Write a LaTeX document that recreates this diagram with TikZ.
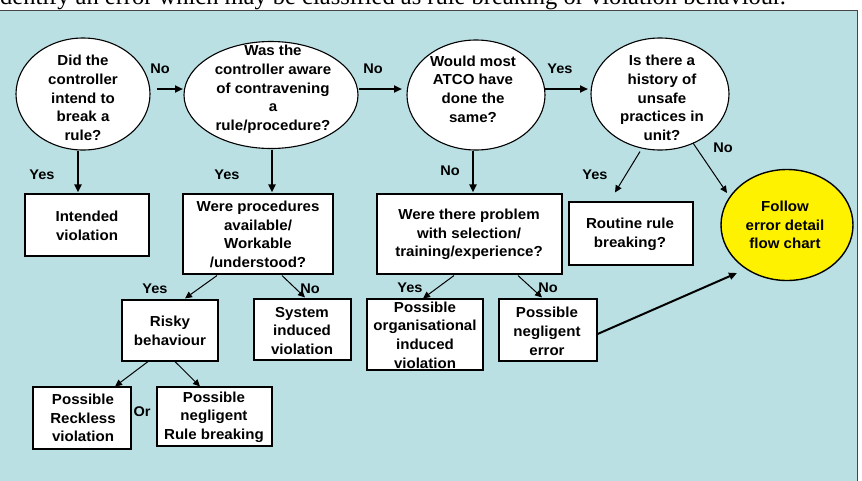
\documentclass[tikz,border=0pt]{standalone}
\usepackage{fontspec}
\setmainfont{Liberation Sans}
\newfontfamily\arb[FakeStretch=1.04]{Liberation Sans}
\newfontfamily\tms{Liberation Serif}
\usetikzlibrary{shapes.geometric,arrows.meta,calc}
\definecolor{panel}{RGB}{186,224,227}
\definecolor{edge}{RGB}{70,70,70}
\tikzset{
 txt/.style={font=\arb\bfseries\fontsize{14.5}{18.7}\selectfont, align=center, inner sep=0pt},
 bubble/.style={ellipse, draw=black, line width=1.1pt, fill=white, inner sep=0pt},
 box/.style={rectangle, draw=black, line width=1.1pt, fill=white, inner sep=0pt},
 lbl/.style={font=\arb\bfseries\fontsize{14}{16}\selectfont, inner sep=0pt},
 thk/.style={line width=2pt, -{Triangle[length=8pt,width=7pt]}},
 thn/.style={line width=1pt, -{Triangle[length=7pt,width=6.5pt]}},
}
\begin{document}
\begin{tikzpicture}[x=1pt,y=-1pt]
\useasboundingbox (0,0) rectangle (862,480);
% heading line, cut off by the page top
\node[font=\tms\fontsize{24.5}{28}\selectfont, anchor=base west, inner sep=0pt] (title) at (-8.2,4.5) {Identify an error which may be classified as rule breaking or violation behaviour.};
% panel
\fill[panel] (-1,10.5) rectangle (857.7,484);
\draw[edge, line width=1pt] (-1,10.5) -- (857.7,10.5) -- (857.7,484);

% decision bubbles
\node[bubble, minimum width=134pt, minimum height=112pt] (e1) at (83,94) {};
\node[txt] (e1t) at (83,98) {Did the\\controller\\intend to\\break a\\rule?};
\node[bubble, minimum width=174pt, minimum height=107pt] (e2) at (271,95) {};
\node[txt] (e2t) at (273,89.5) {Was the\\controller aware\\of contravening\\a\\rule/procedure?};
\node[bubble, minimum width=138pt, minimum height=110pt] (e3) at (476,95) {};
\node[txt] (e3t) at (473,89) {Would most\\ATCO have\\done the\\same?};
\node[bubble, minimum width=138pt, minimum height=112pt] (e4) at (660,94) {};
\node[txt] (e4t) at (662,98) {Is there a\\history of\\unsafe\\practices in\\unit?};
\node[bubble, fill=yellow, line width=1.4pt, minimum width=132pt, minimum height=111pt] (fy) at (787,225) {};
\node[txt] (fyt) at (785,225) {Follow\\error detail\\flow chart};

% boxes
\node[box, minimum width=124pt, minimum height=62pt] (b1) at (87,225) {};
\node[txt] (b1t) at (87,225.5) {Intended\\violation};
\node[box, minimum width=150pt, minimum height=80pt] (b2) at (258,234) {};
\node[txt] (b2t) at (258,234.5) {Were procedures\\available/\\Workable\\/understood?};
\node[box, minimum width=185pt, minimum height=80pt] (b3) at (469.5,234) {};
\node[txt] (b3t) at (469,234.5) {Were there problem\\with selection/\\training/experience?};
\node[box, minimum width=124pt, minimum height=63pt] (b4) at (631,233.5) {};
\node[txt] (b4t) at (630,234) {Routine rule\\breaking?};
\node[box, minimum width=96pt, minimum height=61pt] (b5) at (170,330.5) {};
\node[txt] (b5t) at (170,331) {Risky\\behaviour};
\node[box, minimum width=97pt, minimum height=61pt] (b6) at (302.5,329.5) {};
\node[txt] (b6t) at (302,331) {System\\induced\\violation};
\node[box, minimum width=116pt, minimum height=71pt] (b7) at (425,334.5) {};
\node[txt] (b7t) at (425,335) {Possible\\organisational\\induced\\violation};
\node[box, minimum width=98pt, minimum height=62pt] (b8) at (548,330) {};
\node[txt] (b8t) at (547,331.5) {Possible\\negligent\\error};
\node[box, minimum width=98pt, minimum height=62pt] (b9) at (82,418) {};
\node[txt] (b9t) at (83,418) {Possible\\Reckless\\violation};
\node[box, minimum width=115pt, minimum height=59pt] (b10) at (214.5,416.5) {};
\node[txt] (b10t) at (214,417) {Possible\\negligent\\Rule breaking};

% connectors
\draw[thk] ($(e1)+(74,-5)$) -- ($(e2)+(-88,-6)$);
\draw[thk] ($(e2)+(88,-6)$) -- ($(e3)+(-74,-6)$);
\draw[thk] ($(e3)+(68,-6)$) -- ($(e4)+(-72,-5)$);
\draw[thk] ($(e1.south)+(-5,0)$) -- ($(b1.north)+(-9,-1)$);
\draw[thk] ($(e2.south)+(1,0.5)$) -- ($(b2.north)+(14,-1)$);
\draw[thk] ($(e3.south)+(-3,0)$) -- ($(b3.north)+(3.5,-1)$);
\draw[thn] ($(e4.south)+(-20,1)$) -- ($(b4.north)+(-16,-9)$);
\draw[thn] ($(e4)+(33,49)$) -- ($(fy)+(-60,-32)$);
\draw[thn] ($(b2.south)+(-41,1)$) -- ($(b5.north)+(15,-1)$);
\draw[thn] ($(b2.south)+(24,1)$) -- ($(b6.north)+(2.5,-1)$);
\draw[thn] ($(b3.south)+(-15.5,1)$) -- ($(b7.north)+(-2,0)$);
\draw[thn] ($(b3.south)+(48.5,1)$) -- ($(b8.north)+(-6,-1)$);
\draw[thn] ($(b5.south)+(-22,0)$) -- ($(b9.north)+(33,0)$);
\draw[thn] ($(b5.south)+(5,0)$) -- ($(b10.north)+(-14.5,0)$);
\draw[thk] ($(b8.east)+(0,4)$) -- ($(fy)+(-50,48)$);

% connector labels
\node[lbl] (l1) at (160,69) {No};
\node[lbl] (l2) at (373,69) {No};
\node[lbl] (l3) at (560,69) {Yes};
\node[lbl] (l4) at (42,175) {Yes};
\node[lbl] (l5) at (227,175) {Yes};
\node[lbl] (l6) at (450,171) {No};
\node[lbl] (l7) at (595,175) {Yes};
\node[lbl] (l8) at (723,148) {No};
\node[lbl] (l9) at (155,289) {Yes};
\node[lbl] (l10) at (310,289) {No};
\node[lbl] (l11) at (410,288) {Yes};
\node[lbl] (l12) at (548,288) {No};
\node[lbl] (l13) at (142,412) {Or};
\end{tikzpicture}
\end{document}
